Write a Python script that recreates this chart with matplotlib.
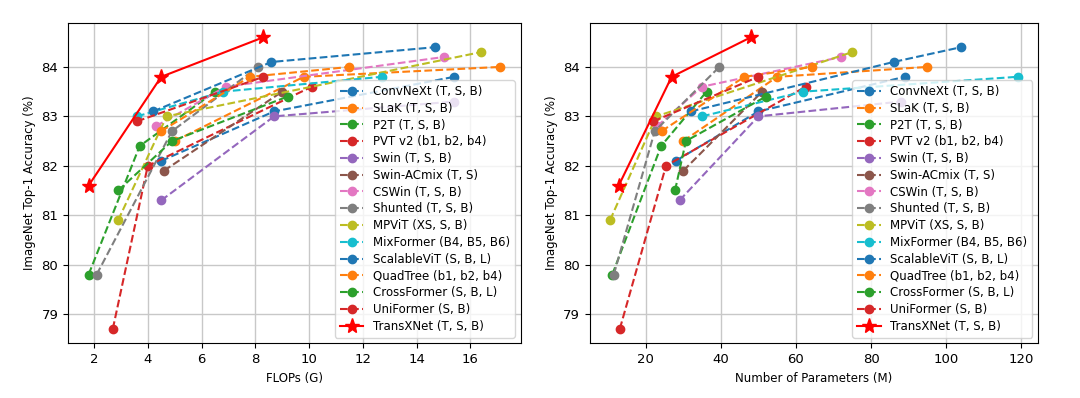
import matplotlib.pyplot as plt

names = ['ConvNeXt (T, S, B)', 'SLaK (T, S, B)', 'P2T (T, S, B)', 'PVT v2 (b1, b2, b4)',
         'Swin (T, S, B)', 'Swin-ACmix (T, S)', 'CSWin (T, S, B)', 'Shunted (T, S, B)',
         'MPViT (XS, S, B)', 'MixFormer (B4, B5, B6)', 'ScalableViT (S, B, L)',
         'QuadTree (b1, b2, b4)', 'CrossFormer (S, B, L)', 'UniFormer (S, B)',
         'TransXNet (T, S, B)']

flops = [[4.5, 8.7, 15.4], [5.0, 9.8, 17.1], [1.8, 3.7, 6.5], [2.7, 4.0, 10.1],
         [4.5, 8.7, 15.4], [4.6, 9.0], [4.3, 6.9, 15.0], [2.1, 4.9, 8.1],
         [2.9, 4.7, 16.4], [3.6, 6.8, 12.7], [4.2, 8.6, 14.7], [4.5, 7.8, 11.5],
         [2.9, 4.9, 9.2], [3.6, 8.3], [1.8, 4.5, 8.3]]

params = [[28, 50, 89], [30, 55, 95], [11.1, 24.1, 36.2], [13.1, 25.4, 62.6],
          [29, 50, 88], [30, 51], [23, 35, 72], [11.5, 22.4, 39.6],
          [10.5, 22.8, 75], [35, 62, 119], [32, 86, 104], [24.2, 46.3, 64.2],
          [27.8, 30.7, 52.0], [22, 50], [12.8, 26.9, 48.0]]

acc = [[82.1, 83.1, 83.8], [82.5, 83.8, 84.0], [79.8, 82.4, 83.5], [78.7, 82.0, 83.6],
       [81.3, 83.0, 83.3], [81.9, 83.5], [82.8, 83.6, 84.2], [79.8, 82.7, 84.0],
       [80.9, 83.0, 84.3], [83.0, 83.5, 83.8], [83.1, 84.1, 84.4], [82.7, 83.8, 84.0],
       [81.5, 82.5, 83.4], [82.9, 83.8], [81.6, 83.8, 84.6]]

colors = ['C0', 'C1', 'C2', 'C3', 'C4', 'C5', 'C6', 'C7', 'C8', 'C9',
          'C0', 'C1', 'C2', 'C3', 'red']

plt.rcParams['font.size'] = 8.5

fig = plt.figure(figsize=(10.8, 3.98), dpi=100)
ax1 = fig.add_axes([0.063, 0.137, 0.419, 0.806])
ax2 = fig.add_axes([0.546, 0.137, 0.415, 0.806])

for ax, xs, xlabel in [(ax1, flops, 'FLOPs (G)'), (ax2, params, 'Number of Parameters (M)')]:
    for name, x, y, c in zip(names, xs, acc, colors):
        if name.startswith('TransXNet'):
            ax.plot(x, y, '-', marker='*', color=c, markersize=11, linewidth=1.5, label=name)
        else:
            ax.plot(x, y, '--', marker='o', color=c, markersize=6, linewidth=1.5, label=name)
    ax.grid(True, linewidth=1, color='#c8c8c8')
    ax.tick_params(labelsize=9.5)
    ax.set_xlabel(xlabel, fontsize=8.5)
    ax.set_ylabel('ImageNet Top-1 Accuracy (%)', fontsize=8.5)
    ax.legend(loc='lower right', fontsize=8.5, labelspacing=0.32)

fig.savefig('out.png', dpi=100, facecolor='white')
